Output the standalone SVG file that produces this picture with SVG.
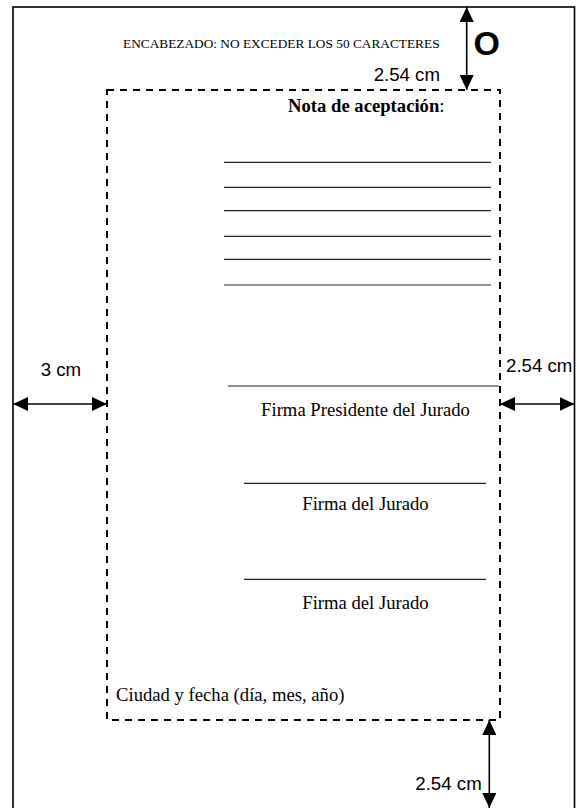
<svg xmlns="http://www.w3.org/2000/svg" width="577" height="808" viewBox="0 0 577 808">
<style>
.serif{font-family:"Liberation Serif","Times New Roman",serif;fill:#000}
.sans{font-family:"Liberation Sans",Arial,sans-serif;fill:#000}
.lbl{font-size:18.67px}
.body{font-size:18.67px}
.sig{stroke:#222;stroke-width:1.2;fill:none}
.dim{stroke:#000;stroke-width:1.6;fill:none}
</style>
<defs>
<marker id="ah" viewBox="0 0 15 14" refX="15" refY="7" markerWidth="15" markerHeight="14" markerUnits="userSpaceOnUse" orient="auto-start-reverse">
<path d="M0,0 L15,7 L0,14 z" fill="#000"/>
</marker>
</defs>
<rect width="577" height="808" fill="#fff"/>
<g id="page">
<rect x="13" y="7" width="561.5" height="812" fill="none" stroke="#000" stroke-width="1.6"/>
</g>
<g id="header">
<text class="serif" x="123" y="48.3" font-size="13.33">ENCABEZADO: NO EXCEDER LOS 50 CARACTERES</text>
<text class="sans" x="473.5" y="54.6" font-size="34" font-weight="bold">O</text>
</g>
<g id="margin-box">
<rect x="107" y="90" width="393" height="630" fill="none" stroke="#000" stroke-width="2" stroke-dasharray="7 6"/>
</g>
<g id="nota">
<text class="serif body" x="288" y="111.7"><tspan font-weight="bold">Nota de aceptación</tspan>:</text>
<line class="sig" x1="224" y1="162.3" x2="491" y2="162.3"/>
<line class="sig" x1="224" y1="187.3" x2="491" y2="187.3"/>
<line class="sig" x1="224" y1="210.7" x2="491" y2="210.7"/>
<line class="sig" x1="224" y1="236.3" x2="491" y2="236.3"/>
<line class="sig" x1="224" y1="259.3" x2="491" y2="259.3"/>
<line class="sig" x1="224" y1="285" x2="491" y2="285"/>
</g>
<g id="firma-presidente">
<line class="sig" x1="228" y1="386" x2="499" y2="386"/>
<text class="serif body" x="365.5" y="416" text-anchor="middle">Firma Presidente del Jurado</text>
</g>
<g id="firma-jurado-1">
<line class="sig" x1="244" y1="483.3" x2="486" y2="483.3"/>
<text class="serif body" x="365.5" y="510" text-anchor="middle">Firma del Jurado</text>
</g>
<g id="firma-jurado-2">
<line class="sig" x1="244" y1="579.3" x2="486" y2="579.3"/>
<text class="serif body" x="365.5" y="609.3" text-anchor="middle">Firma del Jurado</text>
</g>
<g id="ciudad">
<text class="serif body" x="116" y="700.7">Ciudad y fecha (día, mes, año)</text>
</g>
<g id="connectors">
<line class="dim" x1="466.7" y1="7" x2="466.7" y2="90" marker-start="url(#ah)" marker-end="url(#ah)"/>
<line class="dim" x1="13" y1="404" x2="107" y2="404" marker-start="url(#ah)" marker-end="url(#ah)"/>
<line class="dim" x1="500" y1="404" x2="574.5" y2="404" marker-start="url(#ah)" marker-end="url(#ah)"/>
<line class="dim" x1="489.3" y1="720" x2="489.3" y2="808" marker-start="url(#ah)" marker-end="url(#ah)"/>
</g>
<g id="labels">
<text class="sans lbl" x="440" y="81" text-anchor="end">2.54 cm</text>
<text class="sans lbl" x="40.7" y="376">3 cm</text>
<text class="sans lbl" x="506" y="371.7">2.54 cm</text>
<text class="sans lbl" x="481.7" y="790" text-anchor="end">2.54 cm</text>
</g>
</svg>
